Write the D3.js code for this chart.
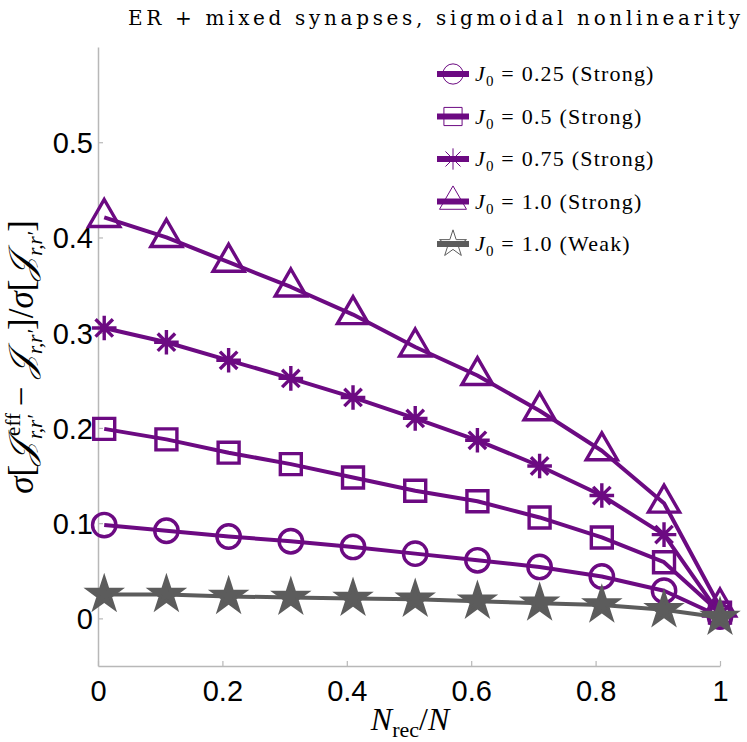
<!DOCTYPE html>
<html>
<head>
<meta charset="utf-8">
<script src="https://cdn.jsdelivr.net/npm/d3@7"></script>
<style>
  body { margin: 0; background: #fff; }
  svg { display: block; }
</style>
</head>
<body>
<svg width="747" height="742"></svg>
<script>
// values
var xVals = [0.01, 0.11, 0.21, 0.31, 0.41, 0.51, 0.61, 0.71, 0.81, 0.91, 1.0];
var j025 = [0.098, 0.092, 0.086, 0.081, 0.075, 0.068, 0.061, 0.054, 0.044, 0.029, 0.002];
var j05 = [0.199, 0.188, 0.174, 0.162, 0.148, 0.134, 0.123, 0.106, 0.085, 0.059, 0.006];
var j075 = [0.305, 0.290, 0.271, 0.252, 0.232, 0.210, 0.187, 0.160, 0.129, 0.088, 0.004];
var j1 = [0.421, 0.400, 0.374, 0.348, 0.319, 0.285, 0.255, 0.218, 0.176, 0.121, 0.012];
var weak = [0.025, 0.025, 0.023, 0.022, 0.021, 0.020, 0.018, 0.016, 0.014, 0.009, 0.001];

var xTicks = [0, 0.2, 0.4, 0.6, 0.8, 1];
var yTicks = [0, 0.1, 0.2, 0.3, 0.4, 0.5];

var purple = "#6c0a82",
    gray = "#5c5c5c";

// matlab style '*' marker: plus and cross together
var symbolStar8 = {
    draw: function (ctx, size) {
        var r = Math.sqrt(size) * 0.6,
            d = r * 0.7071;
        ctx.moveTo(-r, 0); ctx.lineTo(r, 0);
        ctx.moveTo(0, -r); ctx.lineTo(0, r);
        ctx.moveTo(-d, -d); ctx.lineTo(d, d);
        ctx.moveTo(-d, d); ctx.lineTo(d, -d);
    }
};

var series = [
    { name: "0.25 (Strong)", values: j025, symbol: d3.symbolCircle, size: 430, color: purple, fill: "none" },
    { name: "0.5 (Strong)", values: j05, symbol: d3.symbolSquare, size: 440, color: purple, fill: "none" },
    { name: "0.75 (Strong)", values: j075, symbol: symbolStar8, size: 420, color: purple, fill: "none" },
    { name: "1.0 (Strong)", values: j1, symbol: d3.symbolTriangle, size: 420, color: purple, fill: "none" },
    { name: "1.0 (Weak)", values: weak, symbol: d3.symbolStar, size: 300, color: gray, fill: gray }
];

var svg = d3.select("svg");

var x = d3.scaleLinear().domain([0, 1]).range([98, 720]);
var y = d3.scaleLinear().domain([-0.05, 0.6]).range([666, 47]);

// axes (left and bottom only, light gray, ticks inward)
var axisColor = "#b8b8b8";

var xAxis = svg.append("g")
    .attr("transform", "translate(0," + y(-0.05) + ")")
    .call(d3.axisBottom(x).tickValues(xTicks).tickSizeInner(-5).tickSizeOuter(0)
        .tickFormat(function (d) { return d3.format("~g")(d); }));

var yAxis = svg.append("g")
    .attr("transform", "translate(" + x(0) + ",0)")
    .call(d3.axisLeft(y).tickValues(yTicks).tickSizeInner(-5).tickSizeOuter(0)
        .tickFormat(function (d) { return d3.format("~g")(d); }));

[xAxis, yAxis].forEach(function (g) {
    g.select(".domain").attr("stroke", axisColor).attr("stroke-width", 1.5);
    g.selectAll(".tick line").attr("stroke", axisColor).attr("stroke-width", 1.2);
    g.selectAll(".tick text")
        .attr("fill", "#000")
        .style("font-family", "'Liberation Sans', Arial, sans-serif")
        .style("font-size", "29px");
});
xAxis.selectAll(".tick text").attr("y", 14).attr("dy", "0.71em");
yAxis.selectAll(".tick text").attr("x", -5).attr("dy", "0.36em");

// series
var line = d3.line()
    .x(function (d) { return x(d[0]); })
    .y(function (d) { return y(d[1]); });

series.forEach(function (s) {
    var pts = xVals.map(function (v, i) { return [v, s.values[i]]; });
    var g = svg.append("g");
    g.append("path")
        .datum(pts)
        .attr("fill", "none")
        .attr("stroke", s.color)
        .attr("stroke-width", 4)
        .attr("stroke-linejoin", "round")
        .attr("d", line);
    g.selectAll("path.marker")
        .data(pts)
        .enter().append("path")
        .attr("class", "marker")
        .attr("transform", function (d) { return "translate(" + x(d[0]) + "," + y(d[1]) + ")"; })
        .attr("d", d3.symbol().type(s.symbol).size(s.size))
        .attr("fill", s.fill)
        .attr("stroke", s.color)
        .attr("stroke-width", 3.4)
        .attr("stroke-linejoin", "miter");
});

// title
svg.append("text")
    .attr("x", 740)
    .attr("y", 25)
    .attr("text-anchor", "end")
    .attr("textLength", 612)
    .attr("lengthAdjust", "spacing")
    .style("font-family", "'DejaVu Serif', 'Liberation Serif', serif")
    .style("font-size", "20px")
    .text("ER + mixed synapses, sigmoidal nonlinearity");

// legend
var legend = svg.append("g");
series.forEach(function (s, i) {
    var ly = 74 + i * 42.5;
    legend.append("line")
        .attr("x1", 437).attr("x2", 469)
        .attr("y1", ly).attr("y2", ly)
        .attr("stroke", s.color)
        .attr("stroke-width", 6);
    legend.append("path")
        .attr("transform", "translate(453," + ly + ")")
        .attr("d", d3.symbol().type(s.symbol).size(s.size * 0.75))
        .attr("fill", "none")
        .attr("stroke", s.color)
        .attr("stroke-width", 1);
    var t = legend.append("text")
        .attr("x", 475)
        .attr("y", ly + 7)
        .style("font-family", "'Liberation Serif', 'DejaVu Serif', serif")
        .style("font-size", "22px")
        .style("letter-spacing", "1.2px");
    t.append("tspan").style("font-style", "italic").text("J");
    t.append("tspan").attr("dy", 5).style("font-size", "15px").text("0");
    t.append("tspan").attr("dy", -5).text(" = " + s.name);
});

// x label
var xl = svg.append("text")
    .attr("x", 410)
    .attr("y", 730)
    .attr("text-anchor", "middle")
    .style("font-family", "'Liberation Serif', 'DejaVu Serif', serif")
    .style("font-size", "32px");
xl.append("tspan").style("font-style", "italic").text("N");
xl.append("tspan").attr("dy", 7).style("font-size", "22px").text("rec");
xl.append("tspan").attr("dy", -7).text("/");
xl.append("tspan").style("font-style", "italic").text("N");

// y label
var yl = svg.append("text")
    .attr("transform", "translate(33,357) rotate(-90)")
    .attr("text-anchor", "middle")
    .style("font-family", "'Liberation Serif', 'DejaVu Serif', serif")
    .style("font-size", "35px");
yl.append("tspan").style("font-style", "italic").text("σ");
yl.append("tspan").text("[");
yl.append("tspan").style("font-style", "italic").text("𝒥");
yl.append("tspan").attr("dx", 5).attr("dy", -13).style("font-size", "21px").text("eff");
yl.append("tspan").attr("dx", -26).attr("dy", 22).style("font-size", "21px").style("font-style", "italic").text("r,r′");
yl.append("tspan").attr("dy", -9).text(" − ");
yl.append("tspan").style("font-style", "italic").text("𝒥");
yl.append("tspan").attr("dy", 9).style("font-size", "21px").style("font-style", "italic").text("r,r′");
yl.append("tspan").attr("dy", -9).text("]/");
yl.append("tspan").style("font-style", "italic").text("σ");
yl.append("tspan").text("[");
yl.append("tspan").style("font-style", "italic").text("𝒥");
yl.append("tspan").attr("dy", 9).style("font-size", "21px").style("font-style", "italic").text("r,r′");
yl.append("tspan").attr("dy", -9).text("]");
</script>
</body>
</html>
